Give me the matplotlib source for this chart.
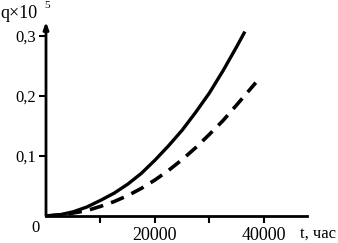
import matplotlib
matplotlib.use("Agg")
import matplotlib.pyplot as plt

t_solid = [0, 2500, 5000, 7500, 10000, 12500, 15000, 17500, 20000, 22500, 25000,
           27500, 30000, 32500, 35000, 36500]
q_solid = [0, 0.002, 0.007, 0.015, 0.026, 0.038, 0.053, 0.071, 0.093, 0.117, 0.143,
           0.173, 0.205, 0.242, 0.282, 0.307]
t_dash = [0, 2500, 5000, 7500, 10000, 12500, 15000, 17500, 20000, 22500, 25000,
          27500, 30000, 32500, 35000, 38500]
q_dash = [0, 0.002, 0.005, 0.009, 0.016, 0.024, 0.034, 0.046, 0.060, 0.076, 0.094,
          0.114, 0.136, 0.159, 0.185, 0.222]
x_ticks = [10000, 20000, 30000, 40000]
x_labels = ['', '20000', '', '40000']
y_ticks = [0.1, 0.2, 0.3]
y_labels = ['0,1', '0,2', '0,3']

plt.rcParams['font.family'] = ['Liberation Serif', 'DejaVu Serif']
plt.rcParams['lines.scale_dashes'] = False

W, H = 338, 243
fig = plt.figure(figsize=(W / 100, H / 100), dpi=100)
x0, y0, x1, y1 = 46, 216, 307, 22
ax = fig.add_axes([x0 / W, (H - y0) / H, (x1 - x0) / W, (y0 - y1) / H])
ax.set_xlim(0, 47900)
ax.set_ylim(0, 0.323)

ax.plot(t_solid, q_solid, color='black', lw=2.4, solid_capstyle='butt')
ax.plot(t_dash, q_dash, color='black', lw=2.6, dashes=(10, 6), dash_capstyle='butt')

for s in ['top', 'right', 'left']:
    ax.spines[s].set_visible(False)
ax.spines['bottom'].set_linewidth(2.0)
ax.annotate('', xy=(0, 1.0), xytext=(0, 0), xycoords='axes fraction',
            arrowprops=dict(arrowstyle='-|>,head_length=0.4,head_width=0.15',
                            lw=2.0, color='black', shrinkA=0, shrinkB=0),
            annotation_clip=False)

ax.set_xticks(x_ticks)
ax.set_xticklabels(x_labels, fontsize=13)
ax.set_yticks(y_ticks)
ax.set_yticklabels(y_labels, fontsize=12)
ax.tick_params(axis='x', direction='out', length=5, width=1.5, pad=3)
ax.tick_params(axis='y', direction='out', length=5, width=1.5, pad=2)

fig.text(35 / W, (H - 228) / H, '0', fontsize=12, ha='center', va='center')
fig.text(318 / W, (H - 234) / H, 't, час', fontsize=12, ha='center', va='center')
fig.text(0 / W, (H - 13) / H, 'q×10', fontsize=13, ha='left', va='center')
fig.text(44 / W, (H - 5) / H, '5', fontsize=8, ha='left', va='center')

fig.savefig('out.png', dpi=100)
